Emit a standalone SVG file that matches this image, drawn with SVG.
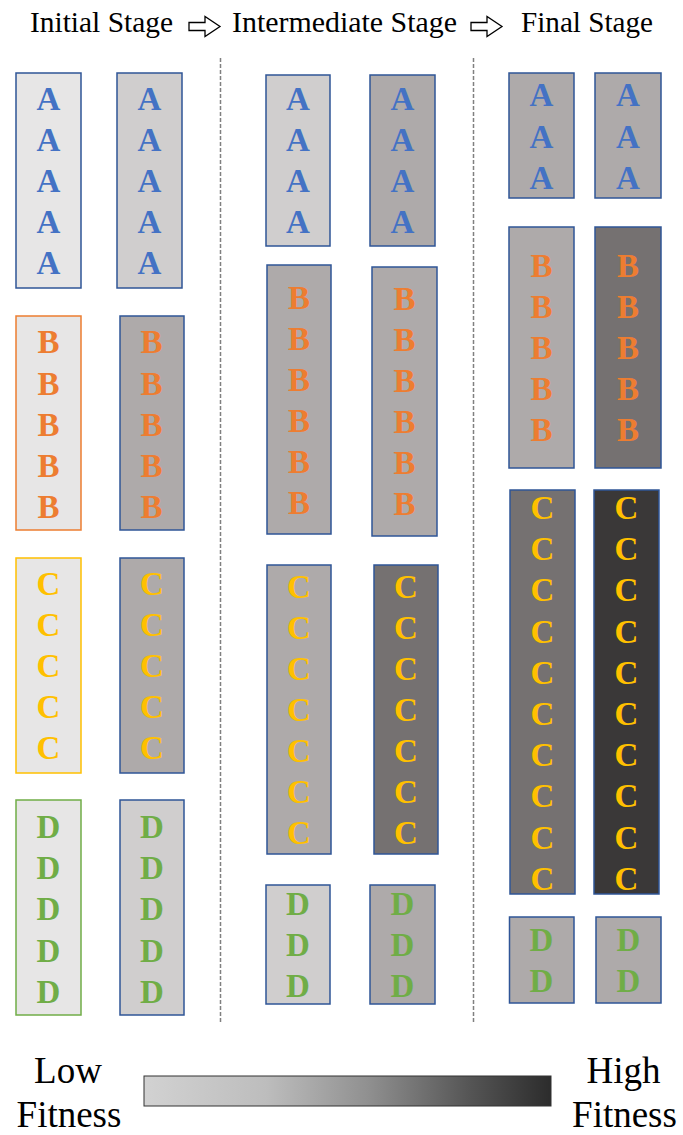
<svg xmlns="http://www.w3.org/2000/svg" width="683" height="1135" viewBox="0 0 683 1135">
<style>
.hdr{font-family:"Liberation Serif",serif;font-size:29px;fill:#000}
.leg{font-family:"Liberation Serif",serif;font-size:37px;fill:#000;text-anchor:middle}
.let{font-family:"Liberation Serif",serif;font-weight:bold;font-size:33px;text-anchor:middle}
.box{stroke:#2F5597;stroke-width:1.5}
.a{fill:#4472C4}.b{fill:#ED7D31}.c{fill:#FFC000}.d{fill:#70AD47}
.g1{fill:#E7E6E6}.g2{fill:#D0CECE}.g3{fill:#AEAAAA}.g4{fill:#757171}.g5{fill:#3A3838}
.div{stroke:#808080;stroke-width:1.5;stroke-dasharray:4 2;fill:none}
.arr{fill:#fff;stroke:#000;stroke-width:1.3}
</style>
<defs>
<linearGradient id="fit" x1="0" y1="0" x2="1" y2="0">
<stop offset="0" stop-color="#D2D2D2"/>
<stop offset="0.3" stop-color="#BDBDBD"/>
<stop offset="0.55" stop-color="#909090"/>
<stop offset="0.8" stop-color="#555555"/>
<stop offset="1" stop-color="#2C2C2C"/>
</linearGradient>
</defs>

<g id="header">
<text class="hdr" x="30" y="32" textLength="143" lengthAdjust="spacingAndGlyphs">Initial Stage</text>
<text class="hdr" x="232" y="32" textLength="225" lengthAdjust="spacingAndGlyphs">Intermediate Stage</text>
<text class="hdr" x="521" y="32" textLength="132" lengthAdjust="spacingAndGlyphs">Final Stage</text>
</g>

<g id="connectors">
<polygon class="arr" points="189,22.5 205,22.5 205,16.5 220,26.5 205,36.5 205,30.5 189,30.5"/>
<polygon class="arr" points="471,22.5 487,22.5 487,16.5 502,26.5 487,36.5 487,30.5 471,30.5"/>
<line class="div" x1="220.5" y1="58" x2="220.5" y2="1022"/>
<line class="div" x1="473.5" y1="58" x2="473.5" y2="1022"/>
</g>

<!-- Initial stage -->
<g id="init-A1"><rect class="g1" x="16" y="73" width="65" height="215" stroke="#2F5597" stroke-width="1.5"/>
<text class="let a"><tspan x="48.5" y="110">A</tspan><tspan x="48.5" y="151">A</tspan><tspan x="48.5" y="192">A</tspan><tspan x="48.5" y="233">A</tspan><tspan x="48.5" y="274">A</tspan></text></g>
<g id="init-A2"><rect class="box g2" x="117" y="73" width="65" height="215"/>
<text class="let a"><tspan x="149.5" y="110">A</tspan><tspan x="149.5" y="151">A</tspan><tspan x="149.5" y="192">A</tspan><tspan x="149.5" y="233">A</tspan><tspan x="149.5" y="274">A</tspan></text></g>
<g id="init-B1"><rect class="g1" x="16" y="316" width="65" height="214" stroke="#ED7D31" stroke-width="1.5"/>
<text class="let b"><tspan x="48.5" y="353">B</tspan><tspan x="48.5" y="394.5">B</tspan><tspan x="48.5" y="435.5">B</tspan><tspan x="48.5" y="477">B</tspan><tspan x="48.5" y="518">B</tspan></text></g>
<g id="init-B2"><rect class="box g3" x="120" y="316" width="64" height="214"/>
<text class="let b"><tspan x="151.5" y="353">B</tspan><tspan x="151.5" y="394.5">B</tspan><tspan x="151.5" y="435.5">B</tspan><tspan x="151.5" y="477">B</tspan><tspan x="151.5" y="518">B</tspan></text></g>
<g id="init-C1"><rect class="g1" x="16" y="558" width="65" height="215" stroke="#FFC000" stroke-width="1.5"/>
<text class="let c"><tspan x="48.5" y="595">C</tspan><tspan x="48.5" y="636">C</tspan><tspan x="48.5" y="677">C</tspan><tspan x="48.5" y="718">C</tspan><tspan x="48.5" y="759">C</tspan></text></g>
<g id="init-C2"><rect class="box g3" x="120" y="558" width="64" height="215"/>
<text class="let c"><tspan x="152" y="595">C</tspan><tspan x="152" y="636">C</tspan><tspan x="152" y="677">C</tspan><tspan x="152" y="718">C</tspan><tspan x="152" y="759">C</tspan></text></g>
<g id="init-D1"><rect class="g1" x="16" y="800" width="65" height="215" stroke="#70AD47" stroke-width="1.5"/>
<text class="let d"><tspan x="48.5" y="837.5">D</tspan><tspan x="48.5" y="879">D</tspan><tspan x="48.5" y="920">D</tspan><tspan x="48.5" y="962">D</tspan><tspan x="48.5" y="1003">D</tspan></text></g>
<g id="init-D2"><rect class="box g2" x="120" y="800" width="64" height="215"/>
<text class="let d"><tspan x="152" y="837.5">D</tspan><tspan x="152" y="879">D</tspan><tspan x="152" y="920">D</tspan><tspan x="152" y="962">D</tspan><tspan x="152" y="1003">D</tspan></text></g>

<!-- Intermediate stage -->
<g id="mid-A1"><rect class="box g2" x="266" y="75" width="64" height="171"/>
<text class="let a"><tspan x="298" y="110">A</tspan><tspan x="298" y="151">A</tspan><tspan x="298" y="192">A</tspan><tspan x="298" y="233">A</tspan></text></g>
<g id="mid-A2"><rect class="box g3" x="370" y="75" width="65" height="171"/>
<text class="let a"><tspan x="402.5" y="110">A</tspan><tspan x="402.5" y="151">A</tspan><tspan x="402.5" y="192">A</tspan><tspan x="402.5" y="233">A</tspan></text></g>
<g id="mid-B1"><rect class="box g3" x="267" y="265" width="64" height="269"/>
<text class="let b"><tspan x="299" y="309">B</tspan><tspan x="299" y="350">B</tspan><tspan x="299" y="391">B</tspan><tspan x="299" y="432">B</tspan><tspan x="299" y="473">B</tspan><tspan x="299" y="514">B</tspan></text></g>
<g id="mid-B2"><rect class="box g3" x="372" y="267" width="65" height="269"/>
<text class="let b"><tspan x="404.5" y="310">B</tspan><tspan x="404.5" y="351">B</tspan><tspan x="404.5" y="392">B</tspan><tspan x="404.5" y="433">B</tspan><tspan x="404.5" y="474">B</tspan><tspan x="404.5" y="515">B</tspan></text></g>
<g id="mid-C1"><rect class="box g3" x="267" y="565" width="64" height="289"/>
<text class="let c"><tspan x="299" y="598">C</tspan><tspan x="299" y="639">C</tspan><tspan x="299" y="680">C</tspan><tspan x="299" y="721">C</tspan><tspan x="299" y="762">C</tspan><tspan x="299" y="803">C</tspan><tspan x="299" y="844">C</tspan></text></g>
<g id="mid-C2"><rect class="box g4" x="374" y="565" width="64" height="289"/>
<text class="let c"><tspan x="406" y="598">C</tspan><tspan x="406" y="639">C</tspan><tspan x="406" y="680">C</tspan><tspan x="406" y="721">C</tspan><tspan x="406" y="762">C</tspan><tspan x="406" y="803">C</tspan><tspan x="406" y="844">C</tspan></text></g>
<g id="mid-D1"><rect class="box g2" x="266" y="885" width="64" height="119"/>
<text class="let d"><tspan x="298" y="915">D</tspan><tspan x="298" y="956">D</tspan><tspan x="298" y="997">D</tspan></text></g>
<g id="mid-D2"><rect class="box g3" x="370" y="885" width="65" height="119"/>
<text class="let d"><tspan x="402.5" y="915">D</tspan><tspan x="402.5" y="956">D</tspan><tspan x="402.5" y="997">D</tspan></text></g>

<!-- Final stage -->
<g id="fin-A1"><rect class="box g3" x="509" y="73" width="65" height="125"/>
<text class="let a"><tspan x="541.5" y="106">A</tspan><tspan x="541.5" y="147.5">A</tspan><tspan x="541.5" y="189">A</tspan></text></g>
<g id="fin-A2"><rect class="box g3" x="595" y="73" width="66" height="125"/>
<text class="let a"><tspan x="628" y="106">A</tspan><tspan x="628" y="147.5">A</tspan><tspan x="628" y="189">A</tspan></text></g>
<g id="fin-B1"><rect class="box g3" x="509" y="227" width="65" height="241"/>
<text class="let b"><tspan x="541.5" y="277">B</tspan><tspan x="541.5" y="318">B</tspan><tspan x="541.5" y="359">B</tspan><tspan x="541.5" y="400">B</tspan><tspan x="541.5" y="441">B</tspan></text></g>
<g id="fin-B2"><rect class="box g4" x="595" y="227" width="66" height="241"/>
<text class="let b"><tspan x="628" y="277">B</tspan><tspan x="628" y="318">B</tspan><tspan x="628" y="359">B</tspan><tspan x="628" y="400">B</tspan><tspan x="628" y="441">B</tspan></text></g>
<g id="fin-C1"><rect class="box g4" x="510" y="490" width="65" height="404"/>
<text class="let c"><tspan x="542.5" y="519">C</tspan><tspan x="542.5" y="560">C</tspan><tspan x="542.5" y="601">C</tspan><tspan x="542.5" y="643">C</tspan><tspan x="542.5" y="684">C</tspan><tspan x="542.5" y="725">C</tspan><tspan x="542.5" y="766">C</tspan><tspan x="542.5" y="807">C</tspan><tspan x="542.5" y="849">C</tspan><tspan x="542.5" y="890">C</tspan></text></g>
<g id="fin-C2"><rect class="box g5" x="594" y="490" width="65" height="404"/>
<text class="let c"><tspan x="626.5" y="519">C</tspan><tspan x="626.5" y="560">C</tspan><tspan x="626.5" y="601">C</tspan><tspan x="626.5" y="643">C</tspan><tspan x="626.5" y="684">C</tspan><tspan x="626.5" y="725">C</tspan><tspan x="626.5" y="766">C</tspan><tspan x="626.5" y="807">C</tspan><tspan x="626.5" y="849">C</tspan><tspan x="626.5" y="890">C</tspan></text></g>
<g id="fin-D1"><rect class="box g3" x="509.5" y="917" width="64.5" height="86"/>
<text class="let d"><tspan x="541.5" y="951">D</tspan><tspan x="541.5" y="992">D</tspan></text></g>
<g id="fin-D2"><rect class="box g3" x="596" y="917" width="65" height="86"/>
<text class="let d"><tspan x="628.5" y="951">D</tspan><tspan x="628.5" y="992">D</tspan></text></g>

<!-- Legend -->
<g id="legend">
<rect x="144" y="1076" width="407" height="30" fill="url(#fit)" stroke="#333" stroke-width="1"/>
<text class="leg" x="68" y="1083">Low</text>
<text class="leg" x="69" y="1127">Fitness</text>
<text class="leg" x="623.5" y="1083">High</text>
<text class="leg" x="624.5" y="1127">Fitness</text>
</g>
</svg>
